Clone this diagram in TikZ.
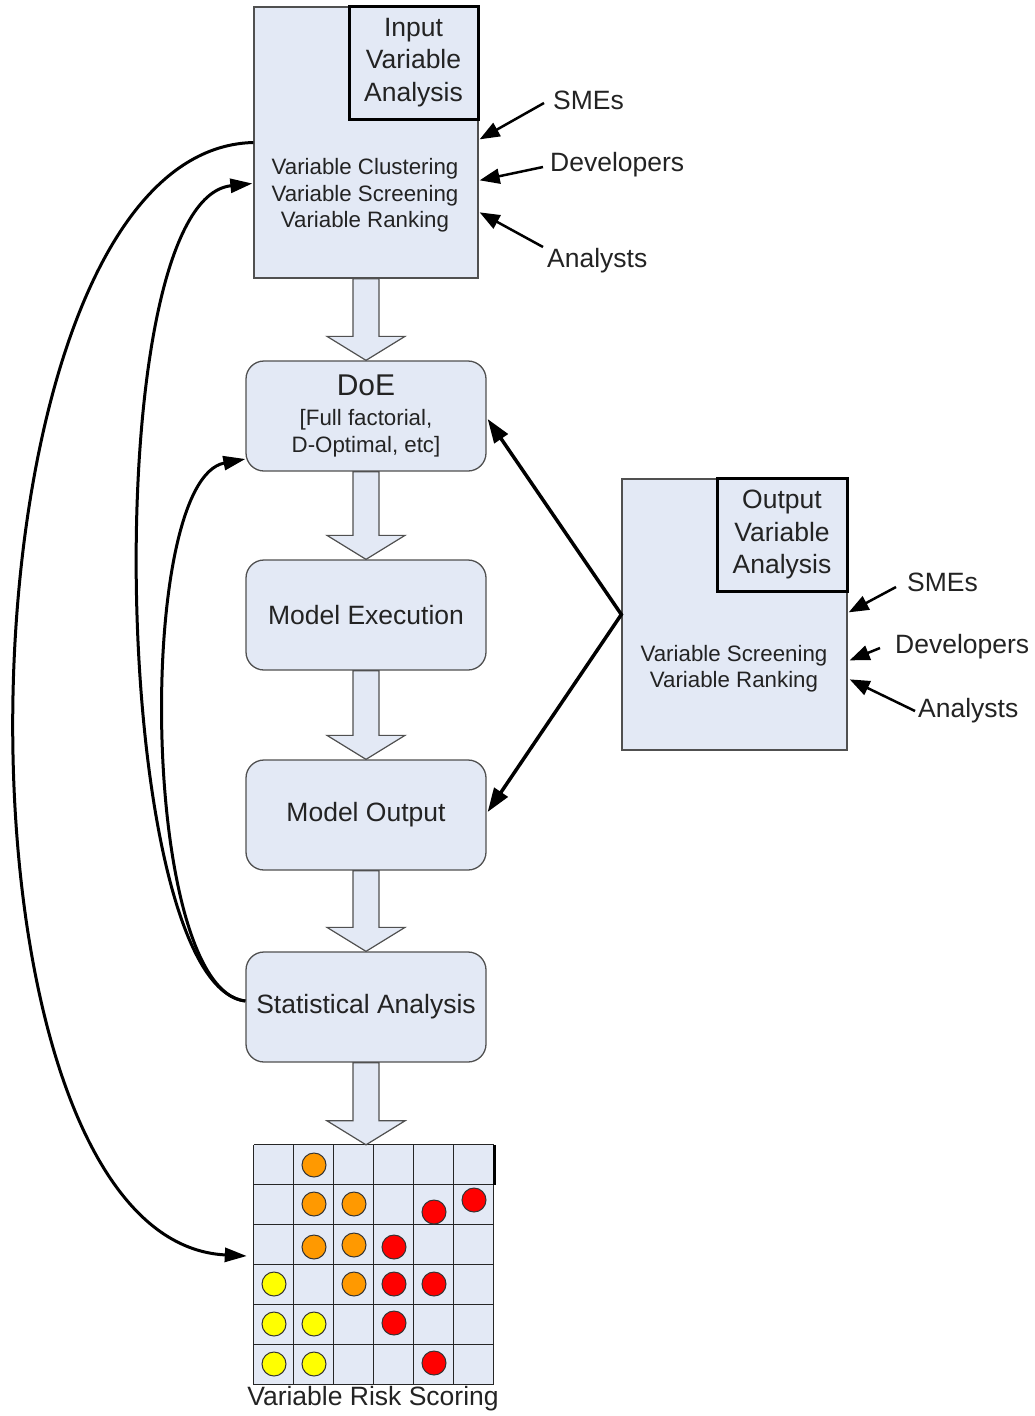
\documentclass[tikz,border=0pt]{standalone}
\usepackage{fontspec}
\setmainfont{Liberation Sans}
\usetikzlibrary{arrows.meta,calc}
\definecolor{boxfill}{RGB}{227,233,245}
\definecolor{boxline}{RGB}{80,80,80}
\definecolor{txt}{RGB}{35,35,35}
\definecolor{dotorange}{RGB}{255,153,0}
\definecolor{dotred}{RGB}{255,0,0}
\definecolor{dotyellow}{RGB}{255,255,0}
\begin{document}
\begin{tikzpicture}[x=1pt,y=-1pt,
  every node/.style={text=txt},
  panel/.style={draw=boxline,line width=1.3pt,fill=boxfill,inner sep=0pt},
  titlebox/.style={draw=black,line width=3pt,fill=boxfill,inner sep=0pt},
  stepbox/.style={draw=boxline,line width=1.3pt,fill=boxfill,rounded corners=18pt,
    minimum width=240pt,minimum height=110pt,inner sep=0pt,align=center,
    font=\fontsize{26.5}{32}\selectfont},
  barrow/.style={draw=boxline,line width=1.2pt,fill=boxfill,line join=miter},
  big/.style={font=\fontsize{26.5}{32.5}\selectfont,align=center,inner sep=0pt},
  small/.style={font=\fontsize{22.3}{26.5}\selectfont,align=center,inner sep=0pt},
  feed/.style={-{Triangle[length=20pt,width=15pt]},line width=2.5pt},
  loopline/.style={-{Triangle[length=22pt,width=14pt]},line width=3pt},
  boldline/.style={{Triangle[length=24pt,width=16pt]}-{Triangle[length=24pt,width=16pt]},line width=3.5pt,line join=miter},
  gridline/.style={draw=black!85,line width=1.3pt},
  dot/.style={circle,draw=black!80,line width=1pt,fill=#1,minimum size=24pt,inner sep=0pt}
]
\useasboundingbox (0,0) rectangle (1034,1416);

% ---------- Input variable analysis ----------
\node[panel,minimum width=224pt,minimum height=271pt] (inbox) at (366,142.5) {};
\node[titlebox,minimum width=129pt,minimum height=113pt,big] (intitle) at (413.5,62.5) {Input\\Variable\\Analysis};
\node[small] (intext) at (365,195.5) {Variable Clustering\\Variable Screening\\Variable Ranking};
\node[big,anchor=west] (insme) at (553,100) {SMEs};
\node[big,anchor=west] (indev) at (550,165) {Developers};
\node[big,anchor=west] (inana) at (547,261) {Analysts};
\draw[feed] ($(insme.west)+(-9,3)$) -- ($(inbox.north east)+(1,133)$);
\draw[feed] ($(indev.west)+(-7,2)$) -- ($(inbox.north east)+(1,174)$);
\draw[feed] ($(inana.west)+(-4,-14)$) -- ($(inbox.north east)+(1,206)$);

% ---------- process steps ----------
\node[stepbox,font=\fontsize{22.3}{27}\selectfont] (doe) at (366,416) {{\fontsize{30}{33}\selectfont DoE}\\[3pt]{[}Full factorial,\\D-Optimal, etc{]}};
\node[stepbox] (me) at (366,615) {Model Execution};
\node[stepbox] (mo) at (366,815) {Model Output};
\node[stepbox] (sa) at (366,1007) {Statistical Analysis};

% ---------- risk scoring grid ----------
\node[fill=boxfill,minimum size=240pt,inner sep=0pt] (grid) at (374,1265) {};
\foreach \i in {0,...,6} {
  \draw[gridline] ($(grid.north west)+(40*\i,0)$) -- ($(grid.south west)+(40*\i,0)$);
  \draw[gridline] ($(grid.north west)+(0,40*\i)$) -- ($(grid.north east)+(0,40*\i)$);
}
\draw[line width=3pt] (grid.north east) -- ($(grid.north east)+(0,40)$);
\node[big] (gridlabel) at (373,1399) {Variable Risk Scoring};

\node[dot=dotorange] (d12) at (314,1165) {};
\node[dot=dotorange] (d22) at (314,1204) {};
\node[dot=dotorange] (d23) at (354,1204) {};
\node[dot=dotred]    (d25) at (434,1212) {};
\node[dot=dotred]    (d26) at (474,1200) {};
\node[dot=dotorange] (d32) at (314,1247) {};
\node[dot=dotorange] (d33) at (354,1245) {};
\node[dot=dotred]    (d34) at (394,1247) {};
\node[dot=dotyellow] (d41) at (274,1284) {};
\node[dot=dotorange] (d43) at (354,1284) {};
\node[dot=dotred]    (d44) at (394,1284) {};
\node[dot=dotred]    (d45) at (434,1284) {};
\node[dot=dotyellow] (d51) at (274,1324) {};
\node[dot=dotyellow] (d52) at (314,1324) {};
\node[dot=dotred]    (d54) at (394,1323) {};
\node[dot=dotyellow] (d61) at (274,1364) {};
\node[dot=dotyellow] (d62) at (314,1364) {};
\node[dot=dotred]    (d65) at (434,1363) {};

% ---------- block arrows ----------
\newcommand{\blockarrow}[2]{%
  \coordinate (bt) at (#1.south |- #2.north);
  \draw[barrow] ($(#1.south)+(-13,0)$) -- ($(bt)+(-13,-24)$) -- ($(bt)+(-39,-24)$)
    -- (bt) -- ($(bt)+(39,-24)$) -- ($(bt)+(13,-24)$)
    -- ($(#1.south)+(13,0)$) -- cycle;}
\blockarrow{inbox}{doe}
\blockarrow{doe}{me}
\blockarrow{me}{mo}
\blockarrow{mo}{sa}
\blockarrow{sa}{grid}

% ---------- Output variable analysis ----------
\node[panel,minimum width=225pt,minimum height=271pt] (outbox) at (734.5,614.5) {};
\node[titlebox,minimum width=130pt,minimum height=113pt,big] (outtitle) at (782,534.5) {Output\\Variable\\Analysis};
\node[small] (outtext) at (734,668.5) {Variable Screening\\Variable Ranking};
\node[big,anchor=west] (outsme) at (907,582) {SMEs};
\node[big,anchor=west] (outdev) at (895,647) {Developers};
\node[big,anchor=west] (outana) at (918,711) {Analysts};
\draw[feed] ($(outsme.west)+(-11,5)$) -- ($(outbox.north east)+(1,134)$);
\draw[feed] ($(outdev.west)+(-15,1)$) -- ($(outbox.north east)+(2,182)$);
\draw[feed] ($(outana.west)+(-3,0)$) -- ($(outbox.north east)+(2,201)$);

\draw[boldline] ($(doe.east)+(1,3)$) -- (outbox.west) -- ($(mo.east)+(1,-3)$);

% ---------- feedback loops ----------
\draw[loopline] (inbox.west) .. controls (-55,150) and (-70,1240) .. ($(grid.west)+(-7,-9)$);
\draw[loopline] ($(sa.west)+(0,-6)$) .. controls (110,985) and (95,200) .. ($(inbox.west)+(-1,41)$);
\draw[loopline] ($(sa.west)+(0,-6)$) .. controls (140,990) and (135,480) .. ($(doe.west)+(0,43)$);
\end{tikzpicture}
\end{document}
